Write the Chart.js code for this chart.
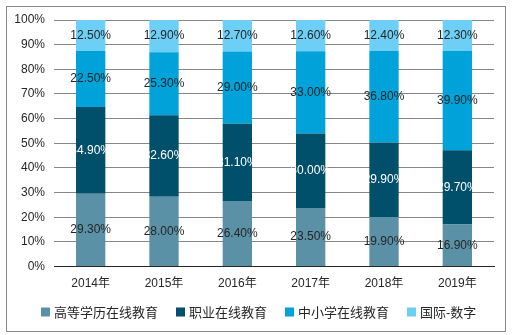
<!DOCTYPE html>
<html>
<head>
<meta charset="utf-8">
<script src="https://cdn.jsdelivr.net/npm/chart.js@4"></script>
<style>
    html, body { margin: 0; padding: 0; background: #fff; }
    #wrap { width: 515px; height: 335px; }
</style>
</head>
<body>
<div id="wrap"><canvas id="eduChart" width="515" height="335"></canvas></div>
<script>
// years on the x axis
const years = ['2014年', '2015年', '2016年', '2017年', '2018年', '2019年'];

// shares (%)
const higherEdu = [29.3, 28.0, 26.4, 23.5, 19.9, 16.9];
const vocational = [34.9, 32.6, 31.1, 30.0, 29.9, 29.7];
const k12 = [22.5, 25.3, 29.0, 33.0, 36.8, 39.9];
const intlDigital = [12.5, 12.9, 12.7, 12.6, 12.4, 12.3];

const yTicks = ['0%', '10%', '20%', '30%', '40%', '50%', '60%', '70%', '80%', '90%', '100%'];

const seriesNames = ['高等学历在线教育', '职业在线教育', '中小学在线教育', '国际-数字'];
const seriesColors = ['#5b91a6', '#004f6b', '#00a2da', '#6dcff6'];
const labelColors = ['#262626', '#ffffff', '#262626', '#262626'];

const rawSeries = [higherEdu, vocational, k12, intlDigital];

// 100% stacked: each column is scaled to its own total
const totals = years.map((_, i) => rawSeries.reduce((acc, s) => acc + s[i], 0));

const FONT = '"Liberation Sans", Arial, "Noto Sans CJK SC", sans-serif';

const frame = {
    id: 'frame',
    beforeDraw(chart) {
        const ctx = chart.ctx;
        ctx.save();
        ctx.fillStyle = '#fff';
        ctx.fillRect(0, 0, chart.width, chart.height);
        ctx.strokeStyle = '#898989';
        ctx.lineWidth = 1;
        ctx.strokeRect(6.5, 6.5, 499, 325);
        ctx.restore();
    }
};

// draws the value labels in the middle of every segment
const segmentLabels = {
    id: 'segmentLabels',
    afterDatasetsDraw(chart) {
        const ctx = chart.ctx;
        ctx.save();
        ctx.font = '12px ' + FONT;
        ctx.textAlign = 'center';
        ctx.textBaseline = 'middle';
        chart.data.datasets.forEach((ds, di) => {
            const meta = chart.getDatasetMeta(di);
            meta.data.forEach((bar, i) => {
                const y = (bar.y + bar.base) / 2;
                ctx.fillStyle = labelColors[di];
                ctx.fillText(rawSeries[di][i].toFixed(2) + '%', bar.x, y);
            });
        });
        ctx.restore();
    }
};

// legend row under the axis (box, small gap, text)
const bottomLegend = {
    id: 'bottomLegend',
    afterDraw(chart) {
        const ctx = chart.ctx;
        ctx.save();
        ctx.font = '13px ' + FONT;
        ctx.textBaseline = 'middle';
        const box = 9, gap = 4, spacing = 18;
        const widths = chart.data.datasets.map(ds => box + gap + ctx.measureText(ds.label).width);
        const total = widths.reduce((a, w) => a + w, 0) + spacing * (widths.length - 1);
        let x = Math.round((chart.width - total) / 2) + 1;
        const y = 312;
        chart.data.datasets.forEach((ds, di) => {
            ctx.fillStyle = ds.backgroundColor;
            ctx.fillRect(x, y - box / 2, box, box);
            ctx.fillStyle = '#262626';
            ctx.fillText(ds.label, x + box + gap, y + 1);
            x += widths[di] + spacing;
        });
        ctx.restore();
    }
};

const ctx = document.getElementById('eduChart').getContext('2d');

new Chart(ctx, {
    type: 'bar',
    data: {
        labels: years,
        datasets: rawSeries.map((s, di) => ({
            label: seriesNames[di],
            data: s.map((v, i) => v / totals[i] * 100),
            backgroundColor: seriesColors[di],
            borderWidth: 0,
            barPercentage: 0.4,
            categoryPercentage: 1
        }))
    },
    options: {
        responsive: false,
        animation: false,
        layout: { padding: { left: 0, right: 21, top: 20, bottom: 34 } },
        plugins: {
            tooltip: { enabled: false },
            legend: { display: false }
        },
        scales: {
            x: {
                stacked: true,
                grid: { display: false, drawTicks: false },
                border: { color: '#262626', width: 1 },
                ticks: {
                    color: '#262626',
                    padding: 10,
                    font: { family: FONT, size: 12 }
                }
            },
            y: {
                stacked: true,
                min: 0,
                max: 100,
                afterFit(scale) { scale.width = 54; },
                grid: { color: '#868686', drawTicks: false },
                border: { display: false },
                ticks: {
                    stepSize: 10,
                    padding: 9,
                    color: '#262626',
                    font: { family: FONT, size: 12 },
                    callback: (v) => yTicks[Math.round(v / 10)]
                }
            }
        }
    },
    plugins: [frame, segmentLabels, bottomLegend]
});
</script>
</body>
</html>
